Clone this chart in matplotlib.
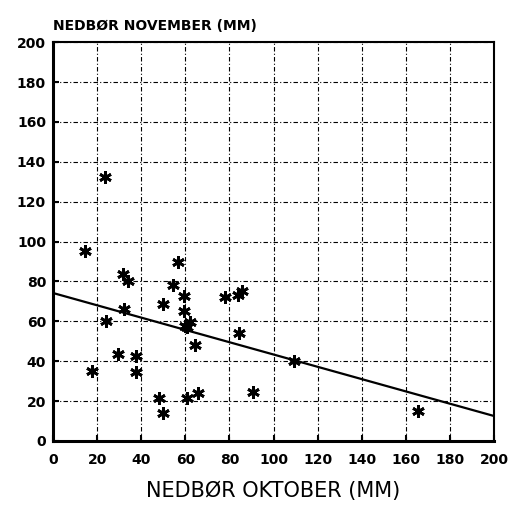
import matplotlib
matplotlib.use("Agg")
import numpy as np
from matplotlib import pyplot as plt

# precipitation, October vs November (mm)
oktober = [14.5, 23.6, 31.7, 34, 56.7, 54.4, 59.4, 59.4, 49.9, 32.2, 24,
           78, 83.9, 85.7, 84.4, 60.8, 62, 60, 64.4, 29.5, 37.6, 37.6,
           17.7, 48.1, 49.9, 60.8, 65.8, 90.7, 109.3, 165.5]
november = [95.2, 132.3, 83.7, 80, 89.7, 78.2, 72.7, 65.2, 68.7, 66.2, 60.2,
            72.2, 73.2, 75.2, 54.1, 57.1, 59.5, 57.5, 48.1, 43.6, 42.6, 34.6,
            35.1, 21.6, 14.0, 21.6, 24.1, 24.6, 40.1, 15.0]

# regression line end points
line_x = [0, 200]
line_y = [74.2, 12.5]

ticks = list(range(0, 201, 20))

plt.rcParams['font.family'] = ['DejaVu Sans']

fig = plt.figure(figsize=(5.12, 5.08), dpi=100)
ax = fig.add_axes([0.1035, 0.132, 0.8615, 0.785])

ax.plot(line_x, line_y, color='black', lw=1.6, zorder=3)
ax.plot(oktober, november, linestyle='none', marker=(6, 2, 0),
        markersize=9, markeredgewidth=2.0, color='black', zorder=4)

ax.set_xlim(0, 200)
ax.set_ylim(0, 200)
ax.set_xticks(ticks)
ax.set_yticks(ticks)
ax.grid(True, color='black', linestyle=(0, (4, 2, 1, 2)), linewidth=0.8)
for side in ['left', 'bottom']:
    ax.spines[side].set_linewidth(2.2)
for side in ['top', 'right']:
    ax.spines[side].set_linewidth(1.5)
ax.tick_params(direction='in', length=4, width=1.5, labelsize=10)
ax.tick_params(axis='x', pad=9)
ax.tick_params(axis='y', pad=5)
for lab in ax.get_xticklabels() + ax.get_yticklabels():
    lab.set_fontweight('bold')

ax.set_xlabel('NEDBØR OKTOBER (MM)', fontsize=15, labelpad=10)
ax.text(0, 1.022, 'NEDBØR NOVEMBER (MM)', transform=ax.transAxes,
        fontsize=10, fontweight='bold', ha='left', va='bottom')

fig.savefig('out.png', dpi=100)
